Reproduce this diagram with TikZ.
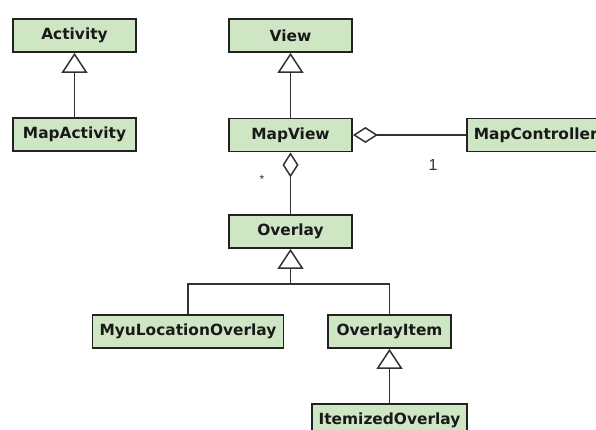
\documentclass[tikz,border=0pt]{standalone}
\usepackage{fontspec}
\setmainfont{DejaVu Sans}
\newfontfamily\labelfont{Liberation Sans}
\usetikzlibrary{arrows.meta}
\definecolor{classfill}{HTML}{CFE6C4}
\definecolor{classline}{HTML}{222222}
\definecolor{wire}{HTML}{333333}
\begin{document}
\begin{tikzpicture}[x=1pt,y=-1pt,
  cls/.style={draw=classline, fill=classfill, line width=1.8pt,
    minimum height=33pt, minimum width=123pt, inner xsep=7pt, inner ysep=0pt,
    font=\fontsize{15.4}{18}\selectfont\bfseries, text=black!90},
  conn/.style={draw=wire, line width=1.8pt},
  inherit/.style={conn, -{Triangle[open, length=20pt, width=26pt, line width=1.5pt]}},
  aggr/.style={conn, -{Diamond[open, length=25pt, width=16pt, line width=1.5pt]}},
  mult/.style={font=\labelfont\fontsize{16}{18}\selectfont, text=black!80}]
\useasboundingbox (0,0) rectangle (596,430);
\clip (0,0) rectangle (596,430);

% classes
\node[cls] (activity)    at (74.5,35.5)  {Activity};
\node[cls] (mapactivity) at (74.5,134.5) {MapActivity};
\node[cls] (view)        at (290.5,35.5) {View};
\node[cls] (mapview)     at (290.5,135)  {MapView};
\node[cls, anchor=west] (mapcontroller) at (466,135) {MapController};
\node[cls] (overlay)     at (290.5,231.5) {Overlay};
\node[cls] (myloc)       at (188,331.5)  {MyuLocationOverlay};
\node[cls] (overlayitem) at (389.5,331.5) {OverlayItem};
\node[cls] (itemized)    at (389.5,420.5) {ItemizedOverlay};

% generalisation
\draw[inherit] (mapactivity) -- (activity);
\draw[inherit] (mapview) -- (view);
\coordinate (fork) at (290.5,284);
\draw[conn] (myloc.north) |- (fork) -| (overlayitem.north);
\draw[inherit] (fork) -- (overlay);
\draw[inherit] (itemized) -- (overlayitem);

% aggregation
\draw[aggr] (mapcontroller.west) -- (mapview.east);
\draw[aggr] (overlay) -- (mapview);

% multiplicities
\node[mult] (m1)   at (433,165) {1};
\node[mult, font=\labelfont\fontsize{12}{14}\selectfont] (many) at (262,179) {*};
\end{tikzpicture}
\end{document}
